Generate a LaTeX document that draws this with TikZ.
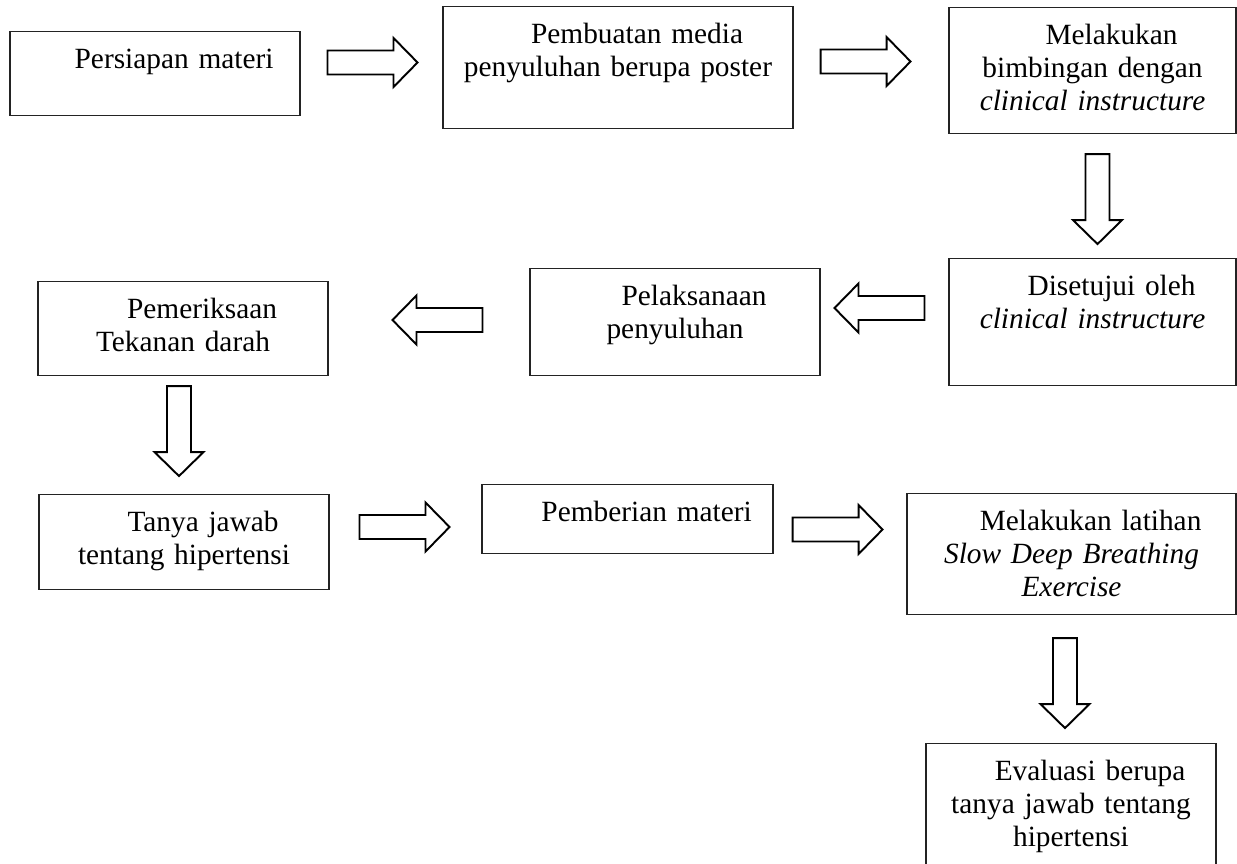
\documentclass[tikz,border=0pt]{standalone}
\usepackage{fontspec}
\setmainfont{Liberation Serif}
\usetikzlibrary{calc}
\definecolor{boxline}{RGB}{35, 35, 35}

\begin{document}
\begin{tikzpicture}[
  stepbox/.style={draw=boxline, line width=0.6pt, anchor=north, align=center, inner xsep=0.2cm, inner ysep=0.28cm, text height=0.46cm, font=\fontsize{16.7pt}{18.8pt}\selectfont},
  blockarr/.pic={\draw[line width=1.1pt, fill=white] (0,0.24) -- (1.32,0.24) -- (1.32,0.49) -- (1.8,0) -- (1.32,-0.49) -- (1.32,-0.24) -- (0,-0.24) -- cycle;}
]
  \path[use as bounding box, clip] (0,0) rectangle (24.74,-17.26);

  \node[stepbox, text width=5.40cm, text depth=0.66cm] (b1) at (3.10, -0.62) {\hspace*{1.3em}Persiapan materi};
  \node[stepbox, text width=6.60cm, text depth=1.42cm] (b2) at (12.36, -0.12) {\hspace*{1.3em}Pembuatan media\\penyuluhan berupa poster};
  \node[stepbox, text width=5.34cm, text depth=1.50cm] (b3) at (21.85, -0.14) {\hspace*{1.3em}Melakukan\\bimbingan dengan\\\textit{clinical instructure}};
  \node[stepbox, text width=5.34cm, text depth=1.52cm] (b4) at (21.85, -5.16) {\hspace*{1.3em}Disetujui oleh\\\textit{clinical instructure}};
  \node[stepbox, text width=5.40cm, text depth=1.12cm] (b5) at (13.50, -5.36) {\hspace*{1.3em}Pelaksanaan\\penyuluhan};
  \node[stepbox, text width=5.40cm, text depth=0.86cm] (b6) at (3.66, -5.62) {\hspace*{1.3em}Pemeriksaan\\Tekanan darah};
  \node[stepbox, text width=5.40cm, text depth=0.88cm] (b7) at (3.68, -9.88) {\hspace*{1.3em}Tanya jawab\\tentang hipertensi};
  \node[stepbox, text width=5.42cm, text depth=0.36cm] (b8) at (12.55, -9.68) {\hspace*{1.3em}Pemberian materi};
  \node[stepbox, text width=6.18cm, text depth=1.40cm] (b9) at (21.43, -9.86) {\hspace*{1.3em}Melakukan latihan\\\textit{Slow Deep Breathing}\\\textit{Exercise}};
  \node[stepbox, text width=5.40cm, text depth=1.62cm] (b10) at (21.42, -14.86) {\hspace*{1.3em}Evaluasi berupa\\tanya jawab tentang\\hipertensi};

  \pic at ($(b1.north east)+(0.54,-0.63)$) {blockarr};
  \pic at ($(b2.north east)+(0.54,-1.11)$) {blockarr};
  \pic[rotate=-90] at ($(b3.south)+(0.10,-0.40)$) {blockarr};
  \pic[rotate=180] at ($(b4.north west)+(-0.48,-1.00)$) {blockarr};
  \pic[rotate=180] at ($(b5.north west)+(-0.94,-1.04)$) {blockarr};
  \pic[rotate=-90] at ($(b6.south)+(-0.08,-0.20)$) {blockarr};
  \pic at ($(b7.north east)+(0.60,-0.66)$) {blockarr};
  \pic at ($(b8.north east)+(0.38,-0.91)$) {blockarr};
  \pic[rotate=-90] at ($(b9.south)+(-0.13,-0.46)$) {blockarr};
\end{tikzpicture}
\end{document}
